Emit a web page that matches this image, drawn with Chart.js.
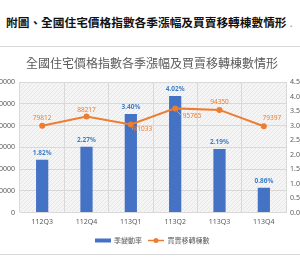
<!DOCTYPE html>
<html><head><meta charset="utf-8">
<script src="https://cdn.jsdelivr.net/npm/chart.js@4"></script>
<style>
html,body{margin:0;padding:0;background:#fff;overflow:hidden;width:300px;height:270px;position:relative;}
#hdr{position:absolute;left:6px;top:13px;font-family:"Noto Sans CJK TC",sans-serif;font-weight:700;font-size:11.7px;line-height:18px;white-space:nowrap;color:#111;}
#hdr span{color:#999;font-weight:400;margin-left:3px;}
#box{position:absolute;left:-12px;top:46px;width:326px;height:207px;border:1px solid #d9d9d9;}
#c{position:absolute;left:0;top:0;}
</style></head>
<body>
<div id="hdr">附圖、全國住宅價格指數各季漲幅及買賣移轉棟數情形<span>.</span></div>
<div id="box"><canvas id="c" width="326" height="207"></canvas></div>
<script>
// ---- data ----
const quarters = ['112Q3','112Q4','113Q1','113Q2','113Q3','113Q4'];
const quarterlyChange = [1.82, 2.27, 3.40, 4.02, 2.19, 0.86];      // %
const transfers = [79812, 88217, 81033, 95765, 94350, 79397];       // 棟
const seriesNames = ['季變動率','買賣移轉棟數'];
const chartTitle = '全國住宅價格指數各季漲幅及買賣移轉棟數情形';
const leftTicks = [0, 20000, 40000, 60000, 80000, 100000, 120000];
const rightTicks = [0, 0.5, 1, 1.5, 2, 2.5, 3, 3.5, 4, 4.5];

// ---- styles ----
const BLUE = '#4472C4', ORANGE = '#ED7D31', GRID = '#d9d9d9', TXT = '#595959';
const FONT = '"Noto Sans","Noto Sans CJK TC",sans-serif';
Chart.defaults.font.family = FONT;
// label offsets for line value labels (dx, dy) relative to point
const lineLabelOffsets = [[0,-8],[0,-6.5],[12,5],[17,7.5],[0,-7.5],[8,-8]];
const leaderFor = [false,false,true,true,false,false];

// legend images
const rectImg = document.createElement('canvas'); rectImg.width = 16; rectImg.height = 5;
(function(){const g=rectImg.getContext('2d'); g.fillStyle=BLUE; g.fillRect(0,0.5,16,4);})();
const lineImg = document.createElement('canvas'); lineImg.width = 16; lineImg.height = 7;
(function(){const g=lineImg.getContext('2d'); g.strokeStyle=ORANGE; g.lineWidth=1.5; g.beginPath(); g.moveTo(0,3.5); g.lineTo(16,3.5); g.stroke(); g.fillStyle=ORANGE; g.beginPath(); g.arc(8,3.5,2.5,0,Math.PI*2); g.fill();})();

// hatch pattern for plot background
const pc = document.createElement('canvas'); pc.width = 4; pc.height = 4;
(function(){const g=pc.getContext('2d'); g.fillStyle='#f5f5f5'; g.fillRect(0,0,4,4); g.fillStyle='#e7e7e7'; for(let i=0;i<4;i++) g.fillRect(i,3-i,1,1);})();

const bgPlugin = {
  id:'plotbg',
  beforeDraw(chart){
    const {ctx, chartArea:a} = chart;
    ctx.save();
    ctx.fillStyle = ctx.createPattern(pc,'repeat');
    ctx.fillRect(a.left, a.top, a.right-a.left, a.bottom-a.top);
    ctx.restore();
  }
};

const labelPlugin = {
  id:'vals',
  afterDatasetsDraw(chart){
    const ctx = chart.ctx;
    ctx.save();
    ctx.textAlign='center'; ctx.textBaseline='middle';
    ctx.font = 'bold 6.5px ' + FONT;
    ctx.fillStyle = '#3f7ec6';
    chart.getDatasetMeta(0).data.forEach((el,i)=>{
      ctx.fillText(quarterlyChange[i].toFixed(2)+'%', el.x, el.y-7);
    });
    ctx.font = '6.5px ' + FONT;
    chart.getDatasetMeta(1).data.forEach((el,i)=>{
      const [dx,dy] = lineLabelOffsets[i];
      const lx = el.x+dx, ly = el.y+dy;
      if (leaderFor[i]) {
        const w = ctx.measureText(String(transfers[i])).width;
        ctx.strokeStyle='#bfbfbf'; ctx.lineWidth=0.8;
        ctx.beginPath(); ctx.moveTo(el.x+2, el.y+3); ctx.lineTo(lx-w/2-1, ly); ctx.stroke();
      }
      ctx.fillStyle = ORANGE;
      ctx.fillText(String(transfers[i]), lx, ly);
    });
    ctx.restore();
  }
};

new Chart(document.getElementById('c'), {
  data: {
    labels: quarters,
    datasets: [
      { type:'bar', label: seriesNames[0], data: quarterlyChange, yAxisID:'yR', backgroundColor: BLUE,
        categoryPercentage:0.3, barPercentage:0.92, order:1 },
      { type:'line', label: seriesNames[1], data: transfers, yAxisID:'yL', borderColor: ORANGE, backgroundColor: ORANGE,
        borderWidth:2, pointRadius:3, pointBackgroundColor: ORANGE, pointBorderWidth:0, tension:0, order:0 }
    ]
  },
  options: {
    responsive:false, animation:false,
    layout:{ padding:0 },
    plugins:{
      title:{ display:true, text: chartTitle, color: TXT, font:{ size:12, weight:'normal', family:'"Noto Sans CJK TC",sans-serif' }, padding:{ top:9, bottom:11.6 } },
      legend:{ position:'bottom', labels:{ usePointStyle:true, pointStyleWidth:16, boxHeight:7, color:TXT, font:{ size:7 }, padding:6,
        generateLabels: () => [
          { text: seriesNames[0], pointStyle: rectImg, fillStyle: BLUE, strokeStyle: BLUE, lineWidth:0, hidden:false, datasetIndex:0, fontColor:TXT },
          { text: seriesNames[1], pointStyle: lineImg, fillStyle: ORANGE, strokeStyle: ORANGE, lineWidth:0, hidden:false, datasetIndex:1, fontColor:TXT }
        ] } },
      tooltip:{ enabled:false }
    },
    scales:{
      x:{ offset:true, grid:{ offset:true, color:GRID, drawTicks:false }, border:{ color:GRID },
          ticks:{ color:TXT, font:{ size:7 }, padding:5 } },
      yL:{ position:'left', min:0, max:120000,
           afterBuildTicks: s => { s.ticks = leftTicks.map(v => ({value:v})); },
           afterFit: s => { s.width = 31; },
           grid:{ color:GRID, drawTicks:false }, border:{ display:false },
           ticks:{ color:TXT, font:{ size:7 }, padding:5, callback: v => String(v) } },
      yR:{ position:'right', min:0, max:4.5,
           afterBuildTicks: s => { s.ticks = rightTicks.map(v => ({value:v})); },
           afterFit: s => { s.width = 29; },
           grid:{ drawOnChartArea:false, drawTicks:false }, border:{ display:false },
           ticks:{ color:TXT, font:{ size:7 }, padding:4, callback: v => Number(v).toFixed(1) } }
    }
  },
  plugins:[bgPlugin, labelPlugin]
});
</script>
</body></html>
